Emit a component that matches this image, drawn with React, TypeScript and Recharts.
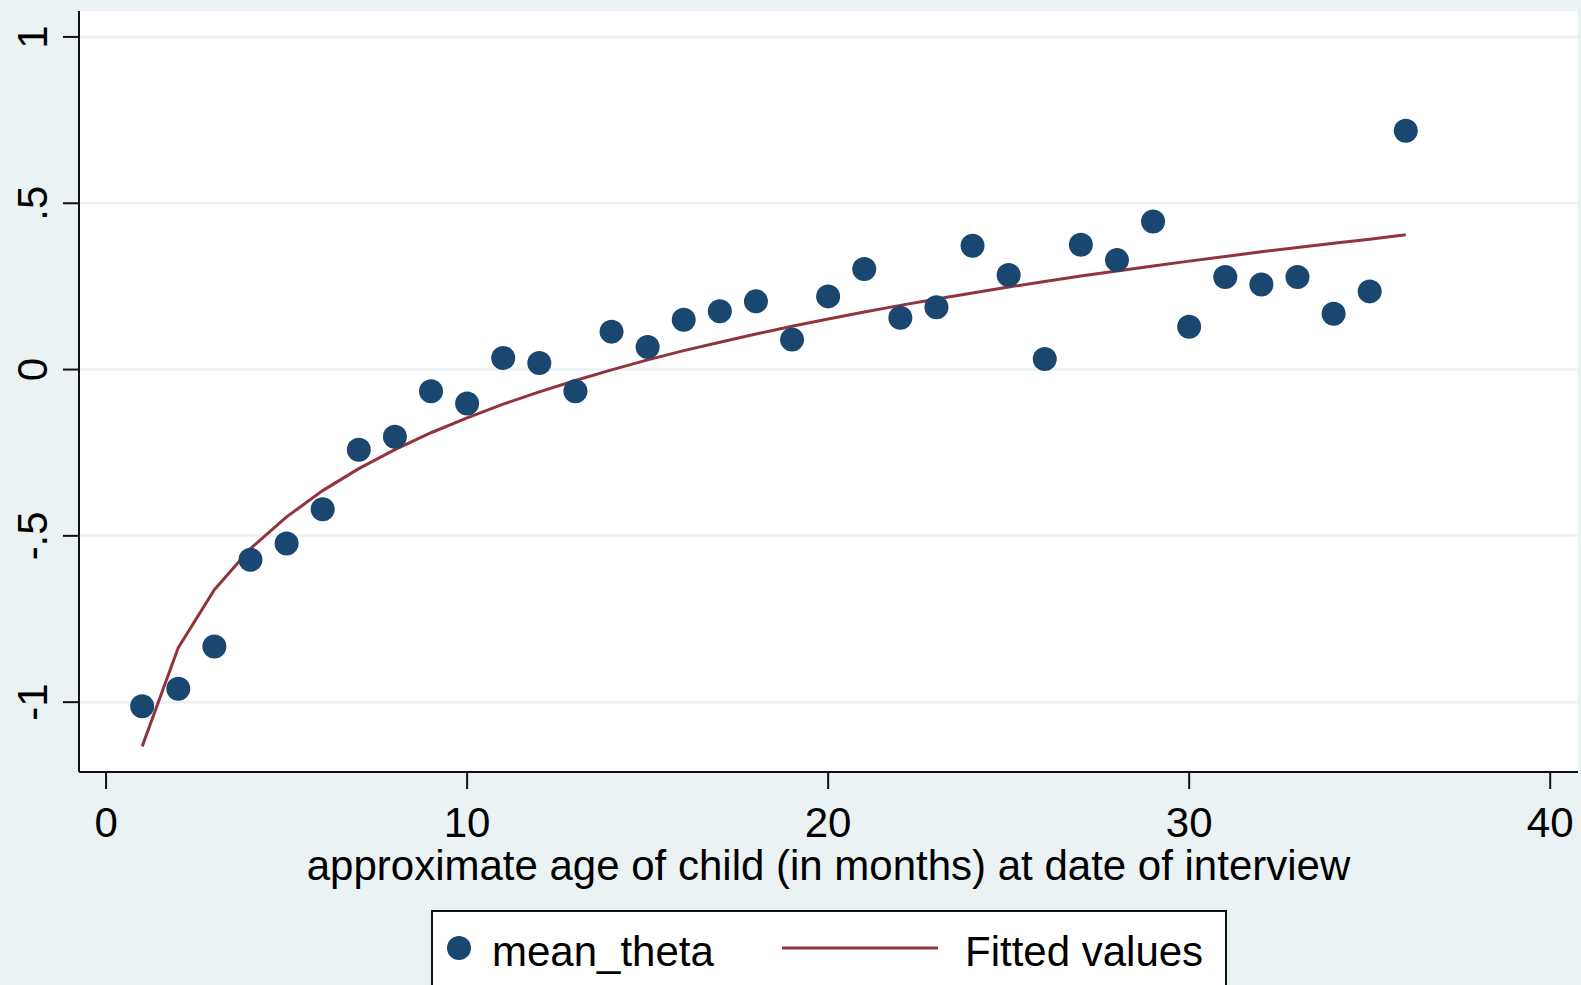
import React from "react";
import {
  CartesianGrid,
  ComposedChart,
  Legend,
  Line,
  Scatter,
  XAxis,
  YAxis,
} from "recharts";

const months = [
  1, 2, 3, 4, 5, 6, 7, 8, 9, 10, 11, 12, 13, 14, 15, 16, 17, 18, 19, 20, 21,
  22, 23, 24, 25, 26, 27, 28, 29, 30, 31, 32, 33, 34, 35, 36,
];
const meanTheta = [
  -1.012, -0.96, -0.833, -0.572, -0.523, -0.42, -0.241, -0.202, -0.065, -0.102,
  0.035, 0.02, -0.065, 0.114, 0.068, 0.15, 0.175, 0.205, 0.09, 0.22, 0.302,
  0.156, 0.187, 0.372, 0.284, 0.032, 0.375, 0.329, 0.445, 0.129, 0.278, 0.256,
  0.278, 0.168, 0.235, 0.718,
];
const fittedValues = [
  -1.133, -0.836, -0.662, -0.538, -0.443, -0.364, -0.298, -0.241, -0.19, -0.145,
  -0.104, -0.067, -0.033, -0.001, 0.029, 0.057, 0.082, 0.107, 0.13, 0.152, 0.173,
  0.193, 0.212, 0.23, 0.248, 0.265, 0.281, 0.296, 0.311, 0.326, 0.34, 0.354,
  0.367, 0.38, 0.392, 0.405,
];
const xTicks = [0, 10, 20, 30, 40];
const yTicks = [-1, -0.5, 0, 0.5, 1];
const yTickLabels = ["-1", "-.5", "0", ".5", "1"];

const rows = months.map((m, i) => ({
  month: m,
  theta: meanTheta[i],
  fitted: fittedValues[i],
}));

const FONT = "'Liberation Sans', Arial, sans-serif";
const BG = "#eaf2f3";
const NAVY = "#1a476f";
const MAROON = "#90353b";
const DOT_R = 12;

const XTick = (props: any) => {
  const { x, y, payload } = props;
  return (
    <text x={x} y={y + 48} textAnchor="middle" fontSize={42} fontFamily={FONT} fill="#000">
      {payload.value}
    </text>
  );
};

const YTick = (props: any) => {
  const { x, y, payload } = props;
  const idx = yTicks.indexOf(payload.value);
  const cx = x - 16;
  return (
    <text
      x={cx}
      y={y}
      transform={`rotate(-90, ${cx}, ${y})`}
      textAnchor="middle"
      fontSize={42}
      fontFamily={FONT}
      fill="#000"
    >
      {yTickLabels[idx]}
    </text>
  );
};

const ThetaDot = (props: any) => (
  <circle cx={props.cx} cy={props.cy} r={DOT_R} fill={NAVY} />
);

const LegendBox = () => (
  <div
    style={{
      position: "relative",
      width: 796,
      height: 90,
      boxSizing: "border-box",
      border: "2px solid #111",
      background: "#fff",
      fontFamily: FONT,
      fontSize: 42,
      color: "#000",
    }}
  >
    <svg width={796} height={90} style={{ position: "absolute", left: -2, top: -2 }}>
      <circle cx={28} cy={38} r={DOT_R} fill={NAVY} />
      <text x={61} y={56} fontSize={42} fontFamily={FONT}>
        mean_theta
      </text>
      <line x1={351} x2={507} y1={38} y2={38} stroke={MAROON} strokeWidth={3} />
      <text x={534} y={56} fontSize={42} fontFamily={FONT}>
        Fitted values
      </text>
    </svg>
  </div>
);

export default function App() {
  return (
    <div
      style={{
        position: "fixed",
        left: 0,
        top: 0,
        width: 1581,
        height: 985,
        overflow: "hidden",
        background: BG,
      }}
    >
      <ComposedChart
        width={1581}
        height={985}
        data={rows}
        margin={{ top: 11, right: 3, left: 0, bottom: 0 }}
      >
        <CartesianGrid
          vertical={false}
          fill="#fff"
          stroke={BG}
          strokeWidth={2.5}
          horizontalValues={yTicks}
        />
        <XAxis
          dataKey="month"
          type="number"
          domain={[-0.75, 40.77]}
          ticks={xTicks}
          allowDataOverflow
          height={213}
          tickSize={17}
          tickMargin={0}
          tick={<XTick />}
          axisLine={{ stroke: "#111", strokeWidth: 2 }}
          tickLine={{ stroke: "#111", strokeWidth: 2 }}
          label={{
            value: "approximate age of child (in months) at date of interview",
            position: "insideTop",
            offset: 78,
            fontSize: 42,
            fontFamily: FONT,
            fill: "#000",
          }}
        />
        <YAxis
          type="number"
          domain={[-1.21, 1.078]}
          ticks={yTicks}
          allowDataOverflow
          width={79}
          tickSize={16}
          tickMargin={0}
          tick={<YTick />}
          axisLine={{ stroke: "#111", strokeWidth: 2 }}
          tickLine={{ stroke: "#111", strokeWidth: 2 }}
        />
        <Scatter
          name="mean_theta"
          dataKey="theta"
          fill={NAVY}
          shape={<ThetaDot />}
          isAnimationActive={false}
        />
        <Line
          name="Fitted values"
          dataKey="fitted"
          type="linear"
          stroke={MAROON}
          strokeWidth={3}
          dot={false}
          activeDot={false}
          isAnimationActive={false}
        />
        <Legend
          layout="horizontal"
          verticalAlign="middle"
          align="center"
          wrapperStyle={{ left: 431, top: 910, width: 796, height: 90 }}
          content={<LegendBox />}
        />
      </ComposedChart>
    </div>
  );
}
